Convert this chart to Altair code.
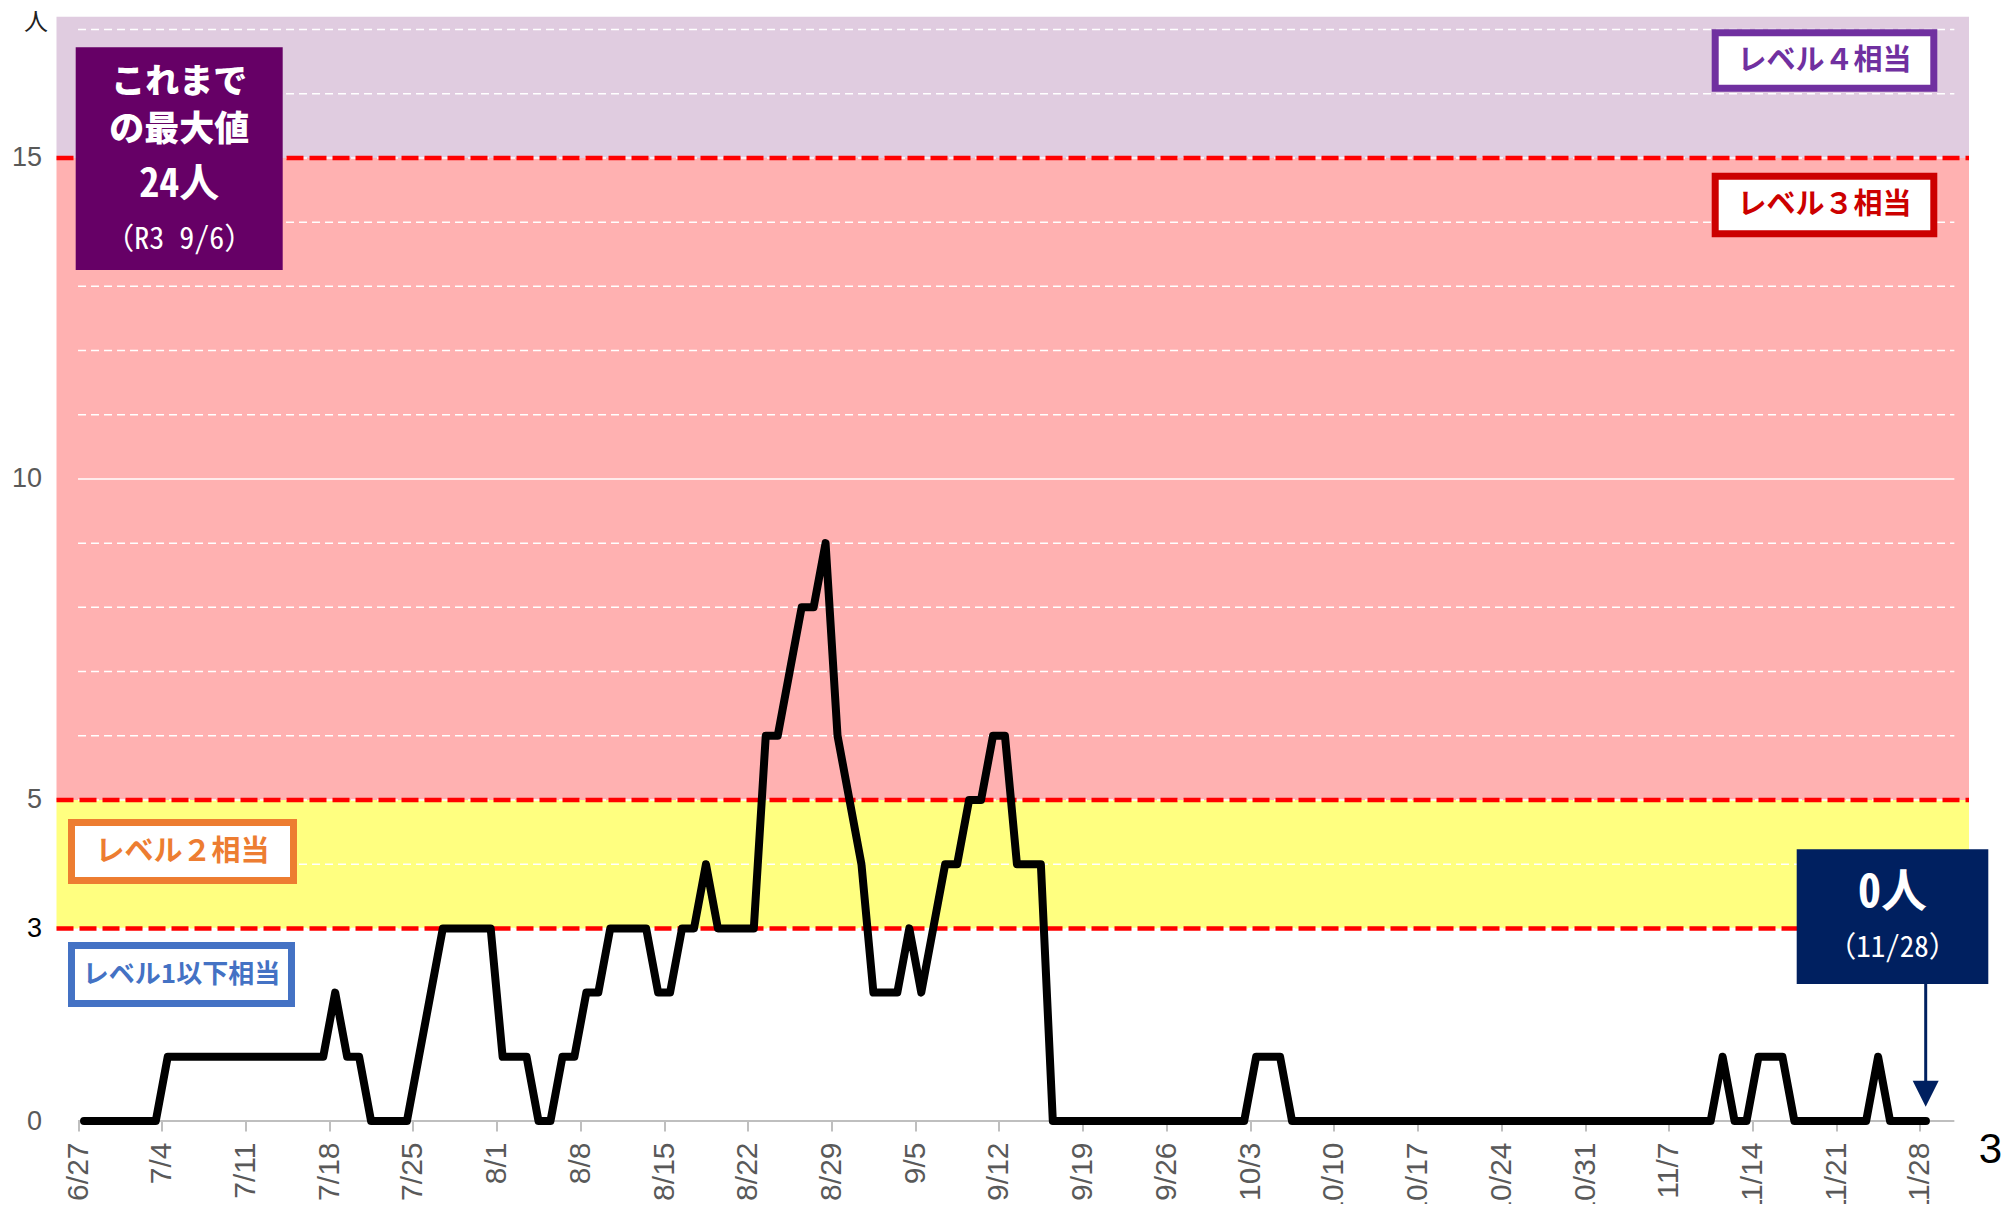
import altair as alt
import pandas as pd

# ---- data ----
counts = (
    [0] * 7 + [1] * 14 + [2] + [1] * 2 + [0] * 4 + [1, 2] + [3] * 5 + [1] * 3 + [0] * 2
    + [1] * 2 + [2] * 2 + [3] * 4 + [2] * 2 + [3] * 2 + [4] + [3] * 4 + [6] * 2 + [7]
    + [8] * 2 + [9] + [6] + [5] + [4] + [2] * 3 + [3] + [2] + [3] + [4] * 2 + [5] * 2
    + [6] * 2 + [4] * 3 + [0] * 17 + [1] * 3 + [0] * 36 + [1] + [0] * 2 + [1] * 3
    + [0] * 7 + [1] + [0] * 4
)
start_date = "2022-06-27"
dates = pd.date_range(start_date + " 12:00", periods=len(counts), freq="D").strftime("%Y-%m-%dT%H:%M:%S")
df = pd.DataFrame({"date": list(dates), "n": counts})

tick_dates = pd.date_range(start_date, "2022-11-28", freq="7D")
band_lo = [3, 5, 15]
band_hi = [5, 15, 17.2]
band_col = ["#FFFF80", "#FFB1B1", "#E0CCE0"]
grid_levels = [l for l in range(1, 18) if l != 10]
solid_levels = [10]
red_levels = [3, 5, 15]
y_ticks = [0, 3, 5, 10, 15]

JP = "Noto Sans CJK JP"
JPM = "Noto Sans Mono CJK JP, Noto Sans CJK JP"
W, H = 1912.5, 1104.3

xscale = alt.Scale(domain=[alt.DateTime(year=2022, month=6, date=25, hours=4, minutes=48),
                           alt.DateTime(year=2022, month=12, date=2, hours=2, minutes=24)])
yscale = alt.Scale(domain=[0, 17.2], nice=False, zero=False)
xaxis = alt.Axis(values=[alt.DateTime(year=d.year, month=d.month, date=d.day) for d in tick_dates],
                 format="%-m/%-d", labelAngle=270, labelFontSize=30, labelFont="Liberation Sans",
                 labelColor="#595959", tickColor="#BFBFBF", tickWidth=2, tickSize=10,
                 labelPadding=11, domain=False, grid=False, labelOverlap=False, labelBound=False,
                 labelFlush=False, title=None)
yaxis = alt.Axis(values=y_ticks, domain=False, ticks=False, grid=False, labelPadding=15,
                 labelFontSize=27, labelFont="Liberation Sans",
                 labelColor=alt.ExprRef(expr="datum.value == 3 ? '#000000' : '#595959'"),
                 title=None)


def X(f):
    return alt.X(f, type="temporal", scale=xscale, axis=xaxis, title=None)


def Y(f):
    return alt.Y(f, type="quantitative", scale=yscale, axis=yaxis, title=None)


bands = alt.Chart(pd.DataFrame({"lo": band_lo, "hi": band_hi, "c": band_col})).mark_rect().encode(
    y=Y("lo"), y2="hi", x=alt.value(0), x2=alt.value(W), color=alt.Color("c:N", scale=None))

gstart, gend = "2022-06-27T00:00:00", "2022-11-30T21:00:00"
grid_dash = alt.Chart(pd.DataFrame({"v": grid_levels, "a": gstart, "b": gend})).mark_rule(
    color="white", strokeWidth=1.5, strokeDash=[8, 5]).encode(y=Y("v"), x=X("a"), x2="b")
grid_solid = alt.Chart(pd.DataFrame({"v": solid_levels, "a": gstart, "b": gend})).mark_rule(
    color="white", strokeWidth=1.5).encode(y=Y("v"), x=X("a"), x2="b")
red = alt.Chart(pd.DataFrame({"v": red_levels})).mark_rule(
    color="#FF0000", strokeWidth=4.5, strokeDash=[17, 6]).encode(
    y=Y("v"), x=alt.value(0), x2=alt.value(W))
axis_line = alt.Chart(pd.DataFrame({"v": [0], "a": gstart, "b": gend})).mark_rule(
    color="#BFBFBF", strokeWidth=2).encode(y=Y("v"), x=X("a"), x2="b")

line = alt.Chart(df).mark_line(color="black", strokeWidth=8, strokeJoin="round",
                               strokeCap="round").encode(x=X("date"), y=Y("n"))

one = pd.DataFrame({"a": [0]})


def box(x0, y0, x1, y1, fill, stroke=None, sw=0):
    kw = dict(fill=fill, strokeWidth=sw)
    if stroke:
        kw["stroke"] = stroke
    return alt.Chart(one).mark_rect(**kw).encode(
        x=alt.value(x0), x2=alt.value(x1), y=alt.value(y0), y2=alt.value(y1))


def label(text, x, y, size, color, weight="bold", font=JP):
    return alt.Chart(one).mark_text(text=text, fontSize=size, color=color, fontWeight=weight,
                                    font=font, align="center", baseline="middle").encode(
        x=alt.value(x), y=alt.value(y))


ann = [
    box(19.2, 30.6, 226.2, 253.3, "#660066"),
    label("これまで", 122.7, 66.3, 34, "white", weight=900),
    label("の最大値", 122.7, 113.3, 35, "white", weight=900),
    label("24人", 122.7, 168.3, 40, "white", font=JPM),
    label("（R3 9/6）", 122.7, 223.3, 30, "white", weight="normal", font=JPM),
    label("人", -20.5, 6.3, 24, "#222222", weight="normal"),
    box(1658.7, 16.1, 1877.3, 71.5, "white", "#7030A0", 7),
    label("レベル４相当", 1768, 43.8, 29, "#7030A0"),
    box(1658.7, 159.5, 1877.3, 217.1, "white", "#CC0000", 7),
    label("レベル３相当", 1768, 188.3, 29, "#CC0000"),
    box(15, 805.8, 237, 863.8, "white", "#ED7D31", 7),
    label("レベル２相当", 126, 834.8, 29, "#ED7D31"),
    box(15, 928.8, 235, 986.8, "white", "#4472C4", 7),
    label("レベル1以下相当", 125, 957.8, 26, "#4472C4"),
    box(1740.2, 832.6, 1931.8, 967.3, "#002060"),
    label("0人", 1836, 876.3, 46, "white", font=JPM),
    label("（11/28）", 1836, 931.3, 29, "white", weight="normal", font=JPM),
    alt.Chart(one).mark_rule(color="#002060", strokeWidth=3).encode(
        x=alt.value(1869.2), y=alt.value(967.3), y2=alt.value(1070)),
    alt.Chart(one).mark_point(shape="M-1,-1L1,-1L0,1Z", size=676, filled=True, opacity=1,
                              color="#002060").encode(x=alt.value(1869.2), y=alt.value(1077)),
    label("3", 1934, 1133, 42, "black", weight="normal", font="Liberation Sans"),
]

chart = alt.layer(bands, grid_dash, grid_solid, red, axis_line, line, *ann).properties(
    width=W, height=H, background="white",
    autosize=alt.AutoSizeParams(type="none"),
    padding={"left": 48.5, "top": 8.7, "right": 33, "bottom": 83},
).configure_view(stroke=None)

chart.save("out.html", embed_options={"renderer": "svg", "actions": False})
